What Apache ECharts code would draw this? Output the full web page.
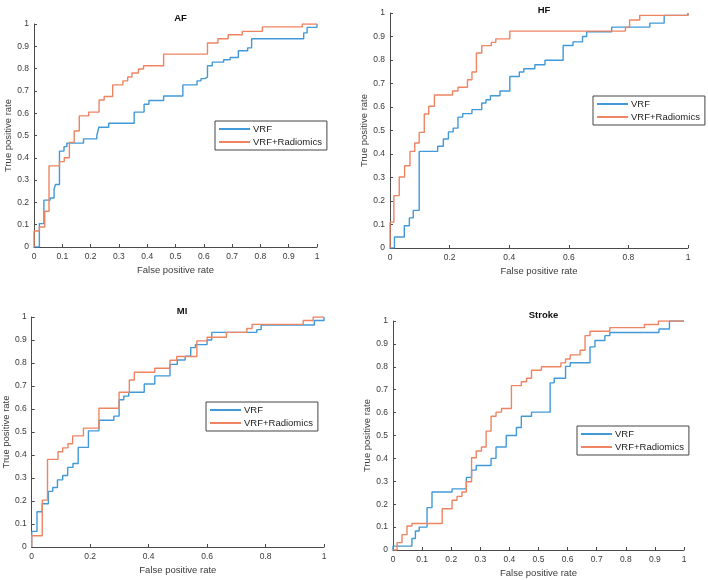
<!DOCTYPE html>
<html>
<head>
<meta charset="utf-8">
<script src="https://cdn.jsdelivr.net/npm/echarts@6/dist/echarts.min.js"></script>
<style>
  html, body { margin: 0; padding: 0; background: #fff; }
  #main { width: 708px; height: 580px; }
</style>
</head>
<body>
<div id="main"></div>
<script>
// panel titles
var panelTitles = ['AF', 'HF', 'MI', 'Stroke'];
var seriesNames = ['VRF', 'VRF+Radiomics'];

// AF
var afVrfFpr = [0, 0.019, 0.035, 0.057, 0.071, 0.076, 0.09, 0.106, 0.116, 0.175, 0.222, 0.229, 0.264, 0.354, 0.389, 0.406, 0.458, 0.526, 0.576, 0.59, 0.603, 0.613, 0.63, 0.67, 0.693, 0.722, 0.755, 0.769, 0.953, 0.965, 1];
var afVrfTpr = [0, 0.105, 0.21, 0.22, 0.26, 0.28, 0.43, 0.45, 0.466, 0.485, 0.5, 0.537, 0.555, 0.605, 0.64, 0.657, 0.677, 0.727, 0.745, 0.755, 0.762, 0.813, 0.829, 0.84, 0.85, 0.88, 0.893, 0.934, 0.96, 0.985, 1];
var afRadFpr = [0, 0, 0.019, 0.038, 0.053, 0.09, 0.107, 0.125, 0.142, 0.16, 0.193, 0.23, 0.248, 0.278, 0.314, 0.331, 0.346, 0.369, 0.387, 0.458, 0.613, 0.65, 0.686, 0.736, 0.807, 0.948, 1];
var afRadTpr = [0, 0.072, 0.09, 0.16, 0.364, 0.383, 0.4, 0.469, 0.52, 0.588, 0.605, 0.659, 0.675, 0.727, 0.745, 0.762, 0.78, 0.798, 0.813, 0.865, 0.915, 0.934, 0.952, 0.967, 0.987, 1, 1];

// HF
var hfVrfFpr = [0, 0.015, 0.048, 0.065, 0.078, 0.098, 0.16, 0.179, 0.196, 0.212, 0.228, 0.244, 0.275, 0.308, 0.322, 0.337, 0.369, 0.402, 0.434, 0.449, 0.486, 0.52, 0.581, 0.614, 0.646, 0.66, 0.744, 0.872, 0.92, 1];
var hfVrfTpr = [0, 0.047, 0.095, 0.128, 0.16, 0.411, 0.433, 0.464, 0.494, 0.51, 0.557, 0.572, 0.589, 0.617, 0.631, 0.648, 0.668, 0.73, 0.749, 0.763, 0.78, 0.799, 0.862, 0.877, 0.9, 0.92, 0.94, 0.957, 0.99, 1];
var hfRadFpr = [0, 0, 0.013, 0.031, 0.049, 0.067, 0.083, 0.098, 0.115, 0.13, 0.149, 0.21, 0.228, 0.26, 0.275, 0.29, 0.308, 0.34, 0.355, 0.402, 0.79, 0.804, 0.838, 1];
var hfRadTpr = [0, 0.11, 0.223, 0.302, 0.35, 0.411, 0.447, 0.492, 0.57, 0.603, 0.651, 0.668, 0.684, 0.716, 0.749, 0.83, 0.861, 0.875, 0.89, 0.923, 0.94, 0.97, 0.99, 1];

// MI
var miVrfFpr = [0, 0, 0.018, 0.036, 0.057, 0.072, 0.088, 0.106, 0.123, 0.141, 0.159, 0.194, 0.23, 0.281, 0.299, 0.315, 0.332, 0.385, 0.421, 0.473, 0.498, 0.525, 0.544, 0.56, 0.6, 0.616, 0.77, 0.785, 0.967, 1];
var miVrfTpr = [0, 0.068, 0.153, 0.188, 0.242, 0.259, 0.292, 0.311, 0.346, 0.363, 0.433, 0.505, 0.551, 0.569, 0.64, 0.656, 0.673, 0.709, 0.744, 0.794, 0.813, 0.83, 0.867, 0.88, 0.9, 0.933, 0.945, 0.965, 0.985, 1];
var miRadFpr = [0, 0, 0.036, 0.054, 0.09, 0.106, 0.124, 0.14, 0.177, 0.23, 0.299, 0.334, 0.351, 0.421, 0.473, 0.496, 0.565, 0.6, 0.666, 0.736, 0.754, 0.929, 0.963, 1];
var miRadTpr = [0, 0.049, 0.204, 0.381, 0.414, 0.431, 0.449, 0.483, 0.517, 0.603, 0.673, 0.726, 0.76, 0.777, 0.812, 0.828, 0.896, 0.912, 0.933, 0.95, 0.968, 0.985, 1, 1];

// Stroke
var stVrfFpr = [0, 0, 0.065, 0.077, 0.09, 0.117, 0.134, 0.203, 0.252, 0.27, 0.286, 0.337, 0.354, 0.389, 0.424, 0.441, 0.476, 0.54, 0.554, 0.593, 0.609, 0.677, 0.694, 0.728, 0.745, 0.914, 0.95, 1];
var stVrfTpr = [0, 0.017, 0.05, 0.083, 0.1, 0.185, 0.253, 0.267, 0.317, 0.349, 0.369, 0.4, 0.45, 0.5, 0.535, 0.584, 0.602, 0.73, 0.75, 0.802, 0.818, 0.887, 0.915, 0.936, 0.95, 0.965, 1, 1];
var stRadFpr = [0, 0.014, 0.031, 0.048, 0.065, 0.169, 0.203, 0.22, 0.237, 0.252, 0.27, 0.286, 0.304, 0.32, 0.337, 0.354, 0.373, 0.407, 0.441, 0.459, 0.476, 0.51, 0.577, 0.593, 0.609, 0.643, 0.66, 0.677, 0.745, 0.864, 0.912, 1];
var stRadTpr = [0, 0.032, 0.067, 0.105, 0.116, 0.18, 0.217, 0.234, 0.253, 0.298, 0.403, 0.432, 0.45, 0.519, 0.584, 0.602, 0.618, 0.718, 0.735, 0.75, 0.785, 0.8, 0.817, 0.834, 0.852, 0.872, 0.936, 0.955, 0.971, 0.985, 1, 1];

// x tick step per panel
var xTickStep = [0.1, 0.2, 0.2, 0.1];

var FONT = 'Liberation Sans, Arial, sans-serif';
var BLUE = '#4199d8', ORANGE = '#ee8461';

// plot boxes (px) for the four panels
var boxes = [
    {left: 34, top: 24, width: 283, height: 223},
    {left: 390, top: 13, width: 298, height: 235},
    {left: 30, top: 317, width: 294, height: 230},
    {left: 393, top: 321, width: 291, height: 229}
];
var titleTops = [8, 0, 301, 305];
var legendPos = [
    {left: 215, top: 121},
    {left: 593, top: 96},
    {left: 206, top: 402},
    {left: 577, top: 426}
];

var curves = [
    [[afVrfFpr, afVrfTpr], [afRadFpr, afRadTpr]],
    [[hfVrfFpr, hfVrfTpr], [hfRadFpr, hfRadTpr]],
    [[miVrfFpr, miVrfTpr], [miRadFpr, miRadTpr]],
    [[stVrfFpr, stVrfTpr], [stRadFpr, stRadTpr]]
];

function pairs(xs, ys) {
    var out = [];
    for (var i = 0; i < xs.length; i++) {
        out.push([xs[i], ys[i]]);
    }
    return out;
}

function axisBase() {
    return {
        type: 'value',
        min: 0,
        max: 1,
        nameLocation: 'middle',
        nameTextStyle: {fontSize: 9.5, color: '#3a3a3a', fontFamily: FONT},
        axisLine: {show: true, lineStyle: {color: '#4a4a4a', width: 1}},
        axisTick: {show: true, inside: true, length: 3, lineStyle: {color: '#4a4a4a'}},
        axisLabel: {fontSize: 8.5, color: '#3a3a3a', fontFamily: FONT, margin: 5},
        splitLine: {show: false}
    };
}

var grid = [], xAxis = [], yAxis = [], series = [], title = [], legend = [];
for (var p = 0; p < 4; p++) {
    grid.push(boxes[p]);

    var xa = axisBase();
    xa.gridIndex = p;
    xa.interval = xTickStep[p];
    xa.name = 'False positive rate';
    xa.nameGap = 18;
    xAxis.push(xa);

    var ya = axisBase();
    ya.gridIndex = p;
    ya.interval = 0.1;
    ya.name = 'True positive rate';
    ya.nameGap = 20;
    yAxis.push(ya);

    title.push({
        text: panelTitles[p],
        left: boxes[p].left + boxes[p].width / 2,
        top: titleTops[p],
        textAlign: 'center',
        textStyle: {fontSize: 9.5, fontWeight: 'bold', color: '#111', fontFamily: FONT}
    });

    legend.push({
        data: seriesNames,
        orient: 'vertical',
        left: legendPos[p].left,
        top: legendPos[p].top,
        icon: 'rect',
        itemWidth: 31,
        itemHeight: 2,
        itemGap: 3,
        padding: [3, 5, 3, 4],
        borderColor: '#444',
        borderWidth: 1,
        backgroundColor: '#fff',
        selectedMode: false,
        textStyle: {fontSize: 9.5, color: '#222', fontFamily: FONT, padding: [0, 0, 0, -2]}
    });

    for (var s = 0; s < 2; s++) {
        series.push({
            name: seriesNames[s],
            type: 'line',
            xAxisIndex: p,
            yAxisIndex: p,
            step: 'end',
            symbol: 'none',
            animation: false,
            color: s === 0 ? BLUE : ORANGE,
            lineStyle: {width: 1.4},
            data: pairs(curves[p][s][0], curves[p][s][1])
        });
    }
}

var myChart = echarts.init(document.getElementById('main'));
myChart.setOption({
    backgroundColor: '#fff',
    animation: false,
    title: title,
    legend: legend,
    grid: grid,
    xAxis: xAxis,
    yAxis: yAxis,
    series: series
});
</script>
</body>
</html>
